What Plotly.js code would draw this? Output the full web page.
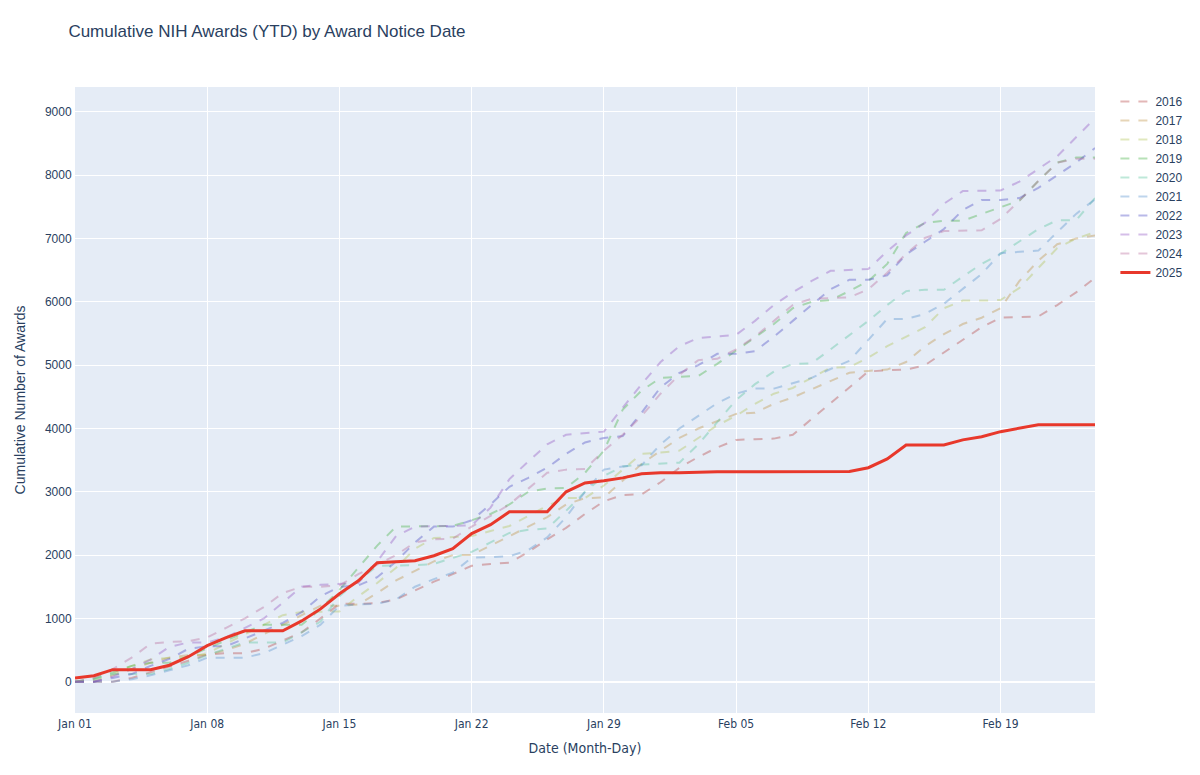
<!DOCTYPE html>
<html>
<head>
<meta charset="utf-8">
<script src="https://cdn.plot.ly/plotly-3.0.1.min.js"></script>
<style>
  body { margin: 0; }
  #plot { width: 1200px; height: 775px; }
</style>
</head>
<body>
<div id="plot"></div>
<script>
// days shown on the x axis: Jan 01 .. Feb 24
var startDay = "2025-01-01";
var nDays = 55;

var years = ["2016", "2017", "2018", "2019", "2020", "2021", "2022", "2023", "2024", "2025"];

// cumulative awards per day
var y2016 = [0,0,0,60,150,230,330,430,450,450,
  520,650,780,1000,1230,1230,1240,1300,1440,1580,
  1700,1830,1860,1880,2050,2250,2430,2650,2850,2950,
  2960,3150,3380,3550,3700,3820,3830,3840,3900,4150,
  4400,4650,4900,4920,4930,5000,5200,5400,5600,5750,
  5760,5770,5950,6150,6380];
var y2017 = [0,0,100,200,300,380,420,420,500,600,
  750,900,1050,1200,1200,1220,1400,1600,1750,1900,
  2000,2000,2150,2300,2450,2600,2800,2900,2910,3170,
  3440,3650,3850,4000,4120,4230,4250,4390,4490,4620,
  4750,4880,4910,4930,5050,5300,5490,5650,5750,5900,
  6330,6650,6910,7000,7050];
var y2018 = [0,30,120,250,350,380,380,450,600,750,
  900,1050,1100,1100,1110,1350,1560,1800,2100,2270,
  2280,2300,2380,2460,2620,2780,2900,2900,3100,3350,
  3600,3620,3650,3850,4050,4200,4390,4550,4640,4800,
  4960,4970,5120,5300,5450,5600,5900,6020,6020,6030,
  6220,6540,6850,7000,7100];
var y2019 = [0,50,150,250,300,300,400,520,650,780,
  900,900,900,1150,1450,1800,2150,2450,2450,2450,
  2460,2550,2650,2800,3000,3050,3060,3300,3650,4300,
  4600,4800,4820,4830,5020,5230,5430,5650,5900,6000,
  6030,6170,6330,6600,7090,7250,7280,7280,7390,7490,
  7600,7910,8200,8280,8280];
var y2020 = [0,40,120,120,120,200,300,420,520,620,
  620,620,780,950,1350,1600,1830,1830,1840,1860,
  1950,2050,2200,2350,2400,2420,2700,3000,3250,3400,
  3430,3450,3460,3750,4100,4450,4700,4900,5020,5030,
  5250,5480,5700,5950,6170,6190,6190,6400,6600,6760,
  6960,7150,7290,7290,7640];
var y2021 = [0,0,0,40,100,180,260,380,380,380,
  450,580,720,900,1200,1220,1230,1300,1500,1620,
  1720,1960,1970,1980,2080,2280,2600,3000,3350,3400,
  3420,3750,4000,4200,4400,4550,4630,4630,4710,4800,
  4940,5070,5400,5730,5730,5810,5970,6200,6440,6770,
  6790,6810,7100,7390,7620];
var y2022 = [0,0,60,120,250,360,520,560,560,680,
  800,930,1100,1350,1500,1520,1650,1900,2200,2450,
  2450,2550,2800,3080,3220,3380,3600,3780,3850,3880,
  4250,4650,4880,5000,5180,5180,5220,5450,5700,5950,
  6200,6350,6350,6420,6750,6950,7150,7450,7610,7610,
  7640,7800,8000,8200,8430];
var y2023 = [0,0,80,200,350,550,620,620,700,850,
  1000,1250,1500,1530,1550,1560,1900,2300,2450,2460,
  2460,2470,2750,3200,3480,3750,3900,3920,3950,4330,
  4700,5050,5300,5430,5450,5480,5700,5950,6150,6330,
  6490,6500,6520,6800,7050,7250,7550,7750,7750,7760,
  7900,8100,8300,8600,8900];
var y2024 = [0,60,200,380,600,630,640,700,850,1000,
  1180,1400,1500,1500,1520,1700,1850,2000,2200,2250,
  2260,2450,2620,2800,3050,3300,3350,3360,3650,3900,
  4200,4550,4850,5080,5100,5250,5450,5700,5950,6050,
  6060,6070,6200,6460,6760,7010,7120,7120,7130,7310,
  7600,7910,8200,8260,8260];
var y2025 = [60,95,190,190,190,260,395,570,695,805,
  805,805,960,1150,1390,1595,1880,1895,1910,1990,
  2100,2340,2480,2685,2685,2685,3000,3140,3175,3220,
  3285,3300,3300,3310,3315,3315,3315,3315,3318,3320,
  3320,3320,3380,3520,3740,3740,3740,3820,3870,3950,
  4010,4060,4060,4060,4060];

var series = [y2016, y2017, y2018, y2019, y2020, y2021, y2022, y2023, y2024, y2025];

var pastColors = [
  "rgba(181,65,65,0.38)",
  "rgba(189,145,65,0.38)",
  "rgba(175,195,85,0.38)",
  "rgba(65,175,65,0.38)",
  "rgba(85,195,155,0.38)",
  "rgba(85,145,205,0.38)",
  "rgba(70,70,195,0.38)",
  "rgba(145,85,195,0.38)",
  "rgba(185,105,155,0.38)"
];

var dates = [];
var d0 = new Date(startDay + "T00:00:00Z");
for (var i = 0; i < nDays; i++) {
  var d = new Date(d0.getTime() + i * 86400000);
  dates.push(d.toISOString().slice(0, 10));
}

var data = [];
for (var k = 0; k < years.length; k++) {
  var current = years[k] === "2025";
  data.push({
    x: dates,
    y: series[k],
    name: years[k],
    type: "scatter",
    mode: "lines",
    line: current
      ? { color: "#e8382b", width: 3 }
      : { color: pastColors[k], width: 2, dash: "dash" }
  });
}

var narrow = "Liberation Sans Narrow, DejaVu Sans Condensed, Arial Narrow, sans-serif";

var layout = {
  width: 1200,
  height: 775,
  font: { family: "Liberation Sans, Arial, sans-serif", color: "#2a3f5f", size: 12 },
  paper_bgcolor: "white",
  plot_bgcolor: "#E5ECF6",
  title: {
    text: "Cumulative NIH Awards (YTD) by Award Notice Date",
    x: 0.057, xanchor: "left",
    y: 0.96, yanchor: "middle",
    font: { size: 17 }
  },
  margin: { l: 75, r: 102, t: 87, b: 62 },
  xaxis: {
    title: { text: "Date (Month-Day)", font: { size: 14, family: narrow }, standoff: 12 },
    type: "date",
    tick0: startDay,
    dtick: 7 * 86400000,
    tickformat: "%b %d",
    tickfont: { family: narrow, size: 12 },
    gridcolor: "white",
    linecolor: "white",
    zerolinecolor: "white",
    automargin: true
  },
  yaxis: {
    title: { text: "Cumulative Number of Awards", font: { size: 14 }, standoff: 15 },
    dtick: 1000,
    gridcolor: "white",
    linecolor: "white",
    zerolinecolor: "white",
    zerolinewidth: 2,
    automargin: true
  },
  legend: { font: { size: 12 } },
  showlegend: true
};

Plotly.newPlot("plot", data, layout, { displayModeBar: false });
</script>
</body>
</html>
